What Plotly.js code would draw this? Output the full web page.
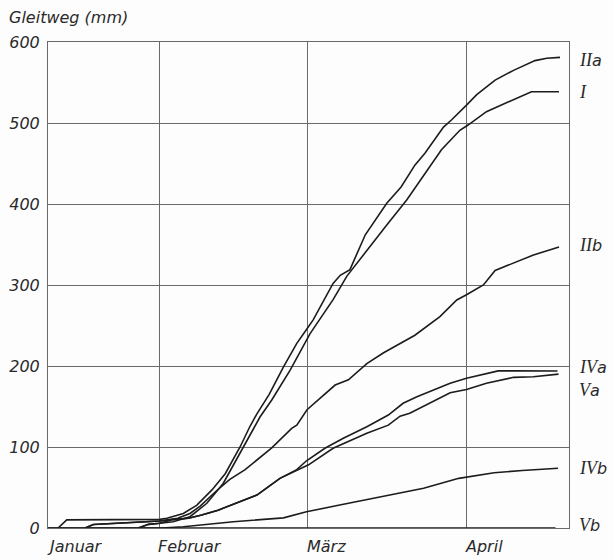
<!DOCTYPE html>
<html><head><meta charset="utf-8">
<script src="https://cdn.plot.ly/plotly-3.0.1.min.js"></script>
<style>html,body{margin:0;padding:0;background:#fff}</style>
</head><body><div id="chart" style="width:613px;height:560px"></div>
<script>
// x = day of year 1960 (Jan 1 = 0)
const xRange = [9.23, 111.15];
const monthStarts = [31, 60, 91];
const monthLabels = ['Januar', 'Februar', 'März', 'April'];
const monthLabelX = [9.23, 31, 60, 91];

const IIa_x = [11.2, 12.9, 31.1, 32.5, 35.7, 38.3, 41.3, 43.9, 46.8, 48.7, 50.1, 52.5, 55.3, 57.9, 59.8, 61.1, 65.0, 66.4, 68.3, 71.3, 75.5, 78.3, 81.0, 83.0, 86.6, 88.2, 91.1, 93.1, 96.7, 100.3, 104.5, 106.8, 109.4];
const IIa_y = [0, 10, 10.7, 12, 18, 28, 47, 67, 100, 125, 141, 165, 199, 228, 245, 257, 302, 312, 319, 362, 401, 421, 448, 463, 495, 504, 522, 535, 553, 565, 577, 580, 581];

const I_x = [26.9, 28.9, 31.1, 33.7, 37.0, 40.3, 43.5, 46.8, 50.7, 53.0, 56.6, 60.5, 65.0, 67.7, 71.6, 75.5, 79.4, 82.6, 86.2, 89.8, 91.4, 95.0, 99.3, 103.8, 109.2];
const I_y = [0, 4.5, 5.8, 7.8, 14, 30.5, 55, 92, 137, 158, 195, 240, 282, 311, 343, 374, 405, 434, 467, 491, 497.5, 514, 526, 538.6, 538.6];

const IIb_x = [16.5, 18.1, 31.1, 34.6, 37.0, 39.0, 42.2, 44.8, 47.8, 50.5, 53.0, 56.9, 57.9, 59.9, 62.4, 65.4, 68.0, 71.6, 74.8, 78.1, 81.0, 85.9, 89.2, 91.1, 94.4, 96.7, 100.3, 104.2, 109.2];
const IIb_y = [0, 4.3, 8.6, 12, 18, 27, 46, 60, 72, 86, 99, 123, 127, 146, 160, 176.5, 183, 203, 216, 228, 238, 261, 281.5, 288, 300, 318, 327, 337, 347];

const IVa_x = [16.5, 18.1, 31.1, 33.4, 36.7, 39.3, 42.5, 47.8, 50.1, 54.6, 57.9, 59.8, 63.4, 67.0, 71.6, 75.8, 78.7, 81.4, 85.3, 87.9, 91.1, 94.7, 97.3, 100.3, 108.9];
const IVa_y = [0, 4.3, 8.6, 10.5, 12, 16, 22, 34.6, 40.7, 61.3, 72, 83, 98.4, 110.7, 125, 139.5, 154, 162, 172.5, 178.6, 184.8, 190, 194, 194, 193.8];

const Va_x = [26.9, 28.9, 31.1, 33.4, 36.7, 39.3, 42.5, 47.8, 50.1, 54.6, 57.9, 60.2, 65.0, 71.6, 75.8, 78.1, 80.0, 84.6, 87.9, 91.1, 95.0, 100.3, 104.2, 109.1];
const Va_y = [0, 4.5, 5.8, 10, 12, 16, 22, 34.6, 40.7, 61.3, 71, 78, 98.4, 117, 127, 138, 141.6, 156, 167, 171, 178.6, 186, 186.8, 190];

const IVb_x = [9.23, 31.5, 35.7, 45.5, 55.3, 59.8, 66.3, 72.7, 82.7, 89.6, 96.5, 102.0, 109.0];
const IVb_y = [0, 0, 1.6, 7.8, 12.5, 20, 28.4, 36.6, 49, 61.3, 68.3, 71, 73.7];

const Vb_x = [9.23, 108.5];
const Vb_y = [0, 0];

const seriesNumeral = ['II', 'I', 'II', 'IV', 'V', 'IV', 'V'];
const seriesSuffix = ['a', '', 'b', 'a', 'a', 'b', 'b'];
const labelY = [578, 538, 349, 199, 170, 74, 4];

const seriesX = [IIa_x, I_x, IIb_x, IVa_x, Va_x, IVb_x, Vb_x];
const seriesY = [IIa_y, I_y, IIb_y, IVa_y, Va_y, IVb_y, Vb_y];

const ink = '#1c1c1c';
const gridc = '#6a6a6a';
const baseFont = {family: 'DejaVu Sans', size: 16, color: '#2a2a2a', style: 'italic'};

const traces = seriesX.map((xs, i) => ({
  x: xs, y: seriesY[i], type: 'scatter', mode: 'lines',
  line: {color: ink, width: 1.6}, showlegend: false, hoverinfo: 'skip'
}));

const annotations = [];
monthLabels.forEach((m, i) => {
  annotations.push({x: monthLabelX[i], xref: 'x', y: 0, yref: 'paper', xanchor: 'left', yanchor: 'top',
    xshift: -3, yshift: -7, text: m, showarrow: false, font: baseFont});
});
seriesNumeral.forEach((n, i) => {
  annotations.push({x: 1, xref: 'paper', y: labelY[i], yref: 'y', xanchor: 'left', yanchor: 'middle',
    xshift: 8, text: "<span style=\"font-family:'Liberation Serif','DejaVu Serif',serif;font-size:18px\">" + n + '</span>' + seriesSuffix[i],
    showarrow: false, font: baseFont});
});
annotations.push({x: 0, xref: 'paper', y: 1, yref: 'paper', xanchor: 'left', yanchor: 'middle',
  xshift: -41, yshift: 25, text: 'Gleitweg (mm)', showarrow: false, font: baseFont});

const layout = {
  width: 613, height: 560,
  margin: {l: 48, r: 44, t: 42, b: 32, pad: 0},
  paper_bgcolor: '#fdfdfd', plot_bgcolor: '#fdfdfd',
  xaxis: {range: xRange, tickmode: 'array', tickvals: monthStarts, showticklabels: false, ticks: '',
    showgrid: true, gridcolor: gridc, gridwidth: 1, zeroline: false,
    showline: true, linecolor: gridc, linewidth: 1, mirror: true, fixedrange: true},
  yaxis: {range: [0, 600], tickmode: 'linear', tick0: 0, dtick: 100, ticks: '',
    showgrid: true, gridcolor: gridc, gridwidth: 1, zeroline: false,
    showline: true, linecolor: gridc, linewidth: 1, mirror: true,
    tickfont: baseFont, ticklabelstandoff: 4, fixedrange: true},
  annotations: annotations
};

Plotly.newPlot('chart', traces, layout, {displayModeBar: false, staticPlot: true});
</script></body></html>
